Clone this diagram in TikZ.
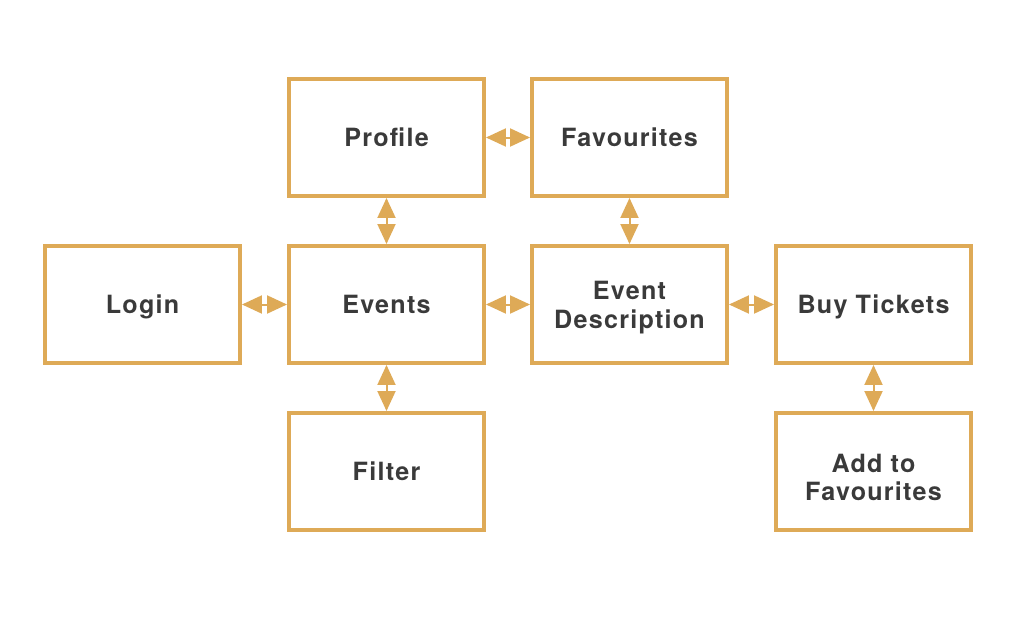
\documentclass[tikz,border=0pt]{standalone}
\usepackage{fontspec}
\usepackage{xcolor}
\usetikzlibrary{arrows.meta,positioning}
\newfontfamily\boxfont[LetterSpace=5]{TeX Gyre Heros}
\definecolor{boxgold}{HTML}{DEAA57}
\definecolor{boxtext}{HTML}{3A3A3A}

\begin{document}
\begin{tikzpicture}[x=0.02cm,y=-0.02cm,
  screen/.style={draw=boxgold, line width=0.08cm, minimum width=3.9cm,
    minimum height=2.34cm, align=center, text=boxtext, text depth=0pt,
    font=\boxfont\bfseries\fontsize{14.3}{16.4}\selectfont},
  link/.style={draw=boxgold, line width=0.04cm,
    {Triangle[length=0.4cm,width=0.36cm]}-{Triangle[length=0.4cm,width=0.36cm]}}]

\useasboundingbox (0,0) rectangle (1029,622);

% =========================================================
% Screens
% =========================================================
\node[screen] (profile) at (386.5,137.5) {Profile};
\node[screen] (favs) at (629.5,137.5) {Favourites};

\node[screen] (login) at (142.5,304.5) {Login};
\node[screen] (events) at (386.5,304.5) {Events};
\node[screen] (eventdesc) at (629.5,304.5) {Event\\Description};
\node[screen] (buy) at (873.5,304.5) {Buy Tickets};

\node[screen] (filter) at (386.5,471.5) {Filter};
% text sits a little low in this box
\node[screen] (addfav) at (873.5,471.5) {\rule{0pt}{1.2em}Add to\\Favourites};

% =========================================================
% Links
% =========================================================
\draw[link] (profile) -- (favs);
\draw[link] (profile) -- (events);
\draw[link] (favs) -- (eventdesc);

\draw[link] (login) -- (events);
\draw[link] (events) -- (eventdesc);
\draw[link] (eventdesc) -- (buy);

\draw[link] (events) -- (filter);
\draw[link] (buy) -- (addfav);

\end{tikzpicture}
\end{document}
